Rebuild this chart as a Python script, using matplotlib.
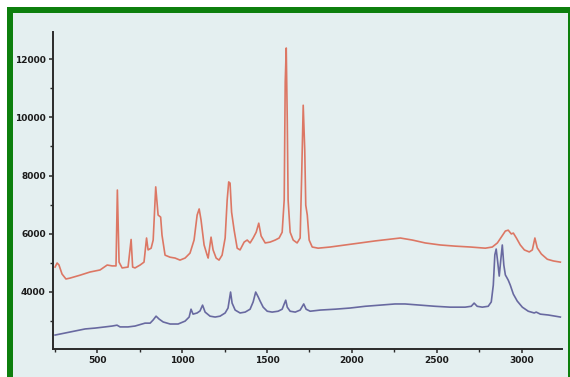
import matplotlib
matplotlib.use("Agg")
import matplotlib.pyplot as plt
from matplotlib.patches import Rectangle
from matplotlib.ticker import MultipleLocator

# Raman spectra: wavenumber (cm-1) and intensity (counts)
red_wn = [251, 263, 274, 292, 315, 339, 398, 457, 516, 558, 587, 610, 618, 628, 646,
          681, 699, 708, 722, 752, 775, 790, 799, 817, 829, 844, 858, 873, 881, 899,
          928, 958, 987, 1017, 1046, 1070, 1088, 1100, 1111, 1129, 1147, 1153, 1170,
          1182, 1200, 1217, 1235, 1253, 1265, 1274, 1282, 1291, 1306, 1324, 1341, 1365,
          1383, 1400, 1418, 1436, 1451, 1465, 1489, 1518, 1548, 1571, 1589, 1601, 1607,
          1613, 1619, 1624, 1636, 1654, 1677, 1695, 1704, 1713, 1722, 1728, 1737, 1748,
          1766, 1801, 1872, 1960, 2049, 2137, 2226, 2285, 2356, 2432, 2521, 2609, 2698,
          2786, 2827, 2857, 2880, 2904, 2921, 2939, 2951, 2969, 2992, 3016, 3045, 3063,
          3078, 3092, 3116, 3151, 3187, 3228]
red_int = [4850, 4990, 4920, 4610, 4440, 4470, 4570, 4680, 4750, 4920, 4890, 4890, 7500,
           5020, 4820, 4850, 5800, 4850, 4820, 4920, 5020, 5850, 5440, 5500, 5780, 7610,
           6640, 6570, 5950, 5260, 5190, 5160, 5090, 5160, 5330, 5780, 6640, 6850, 6470,
           5610, 5260, 5160, 5880, 5440, 5160, 5090, 5260, 5850, 7160, 7780, 7740, 6740,
           6120, 5500, 5440, 5710, 5780, 5680, 5850, 6050, 6360, 5920, 5680, 5710, 5780,
           5850, 6050, 7160, 11220, 12390, 9910, 7160, 6050, 5780, 5680, 5850, 8020, 10420,
           8880, 6980, 6640, 5780, 5540, 5500, 5540, 5610, 5680, 5750, 5810, 5850, 5780,
           5680, 5610, 5570, 5540, 5500, 5540, 5680, 5880, 6090, 6120, 5990, 6020, 5850,
           5610, 5440, 5370, 5440, 5850, 5510, 5300, 5120, 5060, 5020]

blue_wn = [251, 310, 369, 428, 487, 545, 587, 616, 634, 681, 722, 781, 811, 829, 846, 864,
           888, 929, 976, 1017, 1041, 1052, 1064, 1088, 1105, 1120, 1135, 1164, 1194, 1223,
           1253, 1270, 1285, 1294, 1312, 1341, 1371, 1400, 1418, 1433, 1448, 1459, 1477,
           1501, 1530, 1565, 1589, 1601, 1610, 1619, 1636, 1666, 1695, 1716, 1730, 1754,
           1813, 1901, 1989, 2078, 2166, 2254, 2313, 2402, 2490, 2579, 2667, 2703, 2720,
           2738, 2768, 2803, 2821, 2833, 2842, 2850, 2859, 2868, 2877, 2886, 2895, 2904,
           2921, 2933, 2951, 2974, 3004, 3039, 3074, 3086, 3110, 3157, 3198, 3228]
blue_int = [2510, 2580, 2650, 2720, 2750, 2790, 2820, 2850, 2790, 2790, 2820, 2920, 2920,
            3030, 3160, 3060, 2960, 2890, 2890, 2990, 3130, 3400, 3230, 3270, 3340, 3540,
            3300, 3160, 3130, 3160, 3270, 3440, 3990, 3610, 3370, 3270, 3300, 3400, 3650,
            3990, 3820, 3680, 3470, 3330, 3300, 3330, 3400, 3580, 3710, 3470, 3330, 3300,
            3370, 3580, 3400, 3330, 3370, 3400, 3440, 3500, 3540, 3580, 3580, 3540, 3500,
            3470, 3470, 3500, 3610, 3500, 3470, 3500, 3650, 4230, 5270, 5470, 5020, 4540,
            5090, 5610, 4920, 4580, 4400, 4230, 3920, 3680, 3470, 3330, 3270, 3300, 3230,
            3200, 3160, 3130]

x_ticks = [500, 1000, 1500, 2000, 2500, 3000]
y_ticks = [4000, 6000, 8000, 10000, 12000]

W, H = 570, 377
fig = plt.figure(figsize=(W / 100, H / 100), dpi=100, facecolor="white")

# green frame and pale panel
fig.add_artist(Rectangle((7 / W, 0), (W - 7) / W, (H - 7) / H,
                         transform=fig.transFigure, facecolor="#0d7f0d",
                         edgecolor="none", zorder=0))
fig.add_artist(Rectangle((13 / W, 0), (568 - 13) / W, (H - 13) / H,
                         transform=fig.transFigure, facecolor="#e4eff0",
                         edgecolor="none", zorder=0))

ax = fig.add_axes([52.7 / W, 1 - 349 / H, (561.7 - 52.7) / W, (349 - 32.3) / H])
ax.set_facecolor("none")

ax.plot(red_wn, red_int, color="#dc6a55", lw=1.2, alpha=0.9)
ax.plot(blue_wn, blue_int, color="#5b5b98", lw=1.2, alpha=0.9)

ax.set_xlim(237, 3236)
ax.set_ylim(2030, 12930)

for side in ("top", "right"):
    ax.spines[side].set_visible(False)
for side in ("left", "bottom"):
    ax.spines[side].set_color("#2a2a2a")
    ax.spines[side].set_linewidth(1.4)

ax.set_xticks(x_ticks)
ax.set_xticklabels([str(v) for v in x_ticks])
ax.set_yticks(y_ticks)
ax.set_yticklabels([str(v) for v in y_ticks])
ax.xaxis.set_minor_locator(MultipleLocator(250))
ax.yaxis.set_minor_locator(MultipleLocator(1000))

ax.tick_params(which="major", length=3, width=1.1, color="#2a2a2a", pad=2,
               labelsize=6.5, labelcolor="#1a1a1a")
ax.tick_params(which="minor", length=2, width=1.0, color="#2a2a2a")
for lab in ax.get_xticklabels() + ax.get_yticklabels():
    lab.set_fontweight("bold")

fig.savefig("out.png", dpi=100, facecolor="white")
